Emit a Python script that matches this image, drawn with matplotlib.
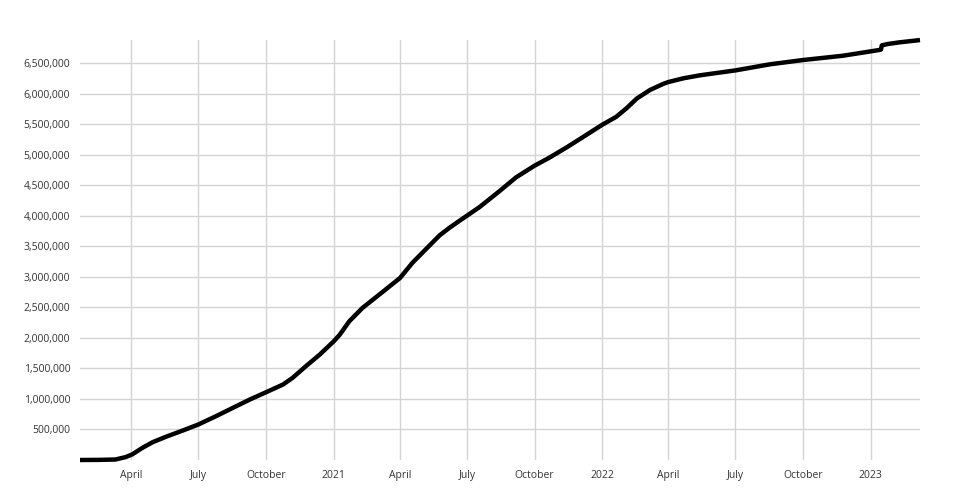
import pandas as pd
import matplotlib.pyplot as plt
import matplotlib.ticker as mticker

# cumulative total
dates = ["2020-01-22", "2020-02-17", "2020-03-10", "2020-03-24", "2020-04-02",
         "2020-04-16", "2020-04-30", "2020-05-18", "2020-06-10", "2020-07-01",
         "2020-07-25", "2020-08-17", "2020-09-09", "2020-10-01", "2020-10-24",
         "2020-11-06", "2020-11-24", "2020-12-13", "2021-01-01", "2021-01-09",
         "2021-01-22", "2021-02-09", "2021-03-04", "2021-04-01", "2021-04-18",
         "2021-05-11", "2021-05-25", "2021-06-07", "2021-06-20", "2021-07-01",
         "2021-07-18", "2021-08-14", "2021-09-06", "2021-10-01", "2021-10-21",
         "2021-11-15", "2021-12-06", "2022-01-01", "2022-01-20", "2022-02-03",
         "2022-02-17", "2022-03-07", "2022-03-25", "2022-04-01", "2022-04-21",
         "2022-05-14", "2022-07-01", "2022-08-17", "2022-10-01", "2022-11-24",
         "2023-01-13", "2023-01-15", "2023-01-16", "2023-01-24", "2023-02-08",
         "2023-03-09"]
totals = [0, 2000, 8000, 47000, 92000,
          200000, 293000, 381000, 484000, 582000,
          718000, 855000, 991000, 1110000, 1236000,
          1345000, 1535000, 1727000, 1944000, 2050000,
          2270000, 2490000, 2710000, 2980000, 3230000,
          3510000, 3680000, 3800000, 3910000, 4000000,
          4140000, 4400000, 4630000, 4820000, 4950000,
          5130000, 5290000, 5490000, 5620000, 5760000,
          5920000, 6060000, 6160000, 6190000, 6250000,
          6300000, 6380000, 6480000, 6550000, 6620000,
          6715000, 6722000, 6790000, 6812000, 6838000,
          6877000]

x_ticks = ["2020-04-01", "2020-07-01", "2020-10-01", "2021-01-01", "2021-04-01",
           "2021-07-01", "2021-10-01", "2022-01-01", "2022-04-01", "2022-07-01",
           "2022-10-01", "2023-01-01"]
x_labels = ["April", "July", "October", "2021", "April", "July", "October",
            "2022", "April", "July", "October", "2023"]
y_ticks = list(range(500000, 7000000, 500000))

plt.rcParams['font.family'] = ['Open Sans', 'DejaVu Sans']

fig = plt.figure(figsize=(9.6, 5), dpi=100)
ax = fig.add_axes([80 / 960, 40 / 500, 840 / 960, 420 / 500])

ax.plot(pd.to_datetime(dates), totals, color='black', linewidth=3.2,
        solid_capstyle='butt', solid_joinstyle='round', clip_on=False, zorder=3)

ax.set_xlim(pd.Timestamp("2020-01-22"), pd.Timestamp("2023-03-09"))
ax.set_ylim(0, 6878000)
ax.set_xticks(pd.to_datetime(x_ticks))
ax.set_xticklabels(x_labels)
ax.set_yticks(y_ticks)
ax.yaxis.set_major_formatter(mticker.FuncFormatter(lambda v, p: f"{int(v):,}"))

ax.grid(True, color='#d4d4d4', linewidth=1)
ax.set_axisbelow(True)
for s in ax.spines.values():
    s.set_visible(False)
ax.tick_params(length=0, labelsize=7.5, labelcolor='#333333')
ax.tick_params(axis='y', pad=7)
ax.tick_params(axis='x', pad=7)

fig.savefig('out.png', dpi=100)
